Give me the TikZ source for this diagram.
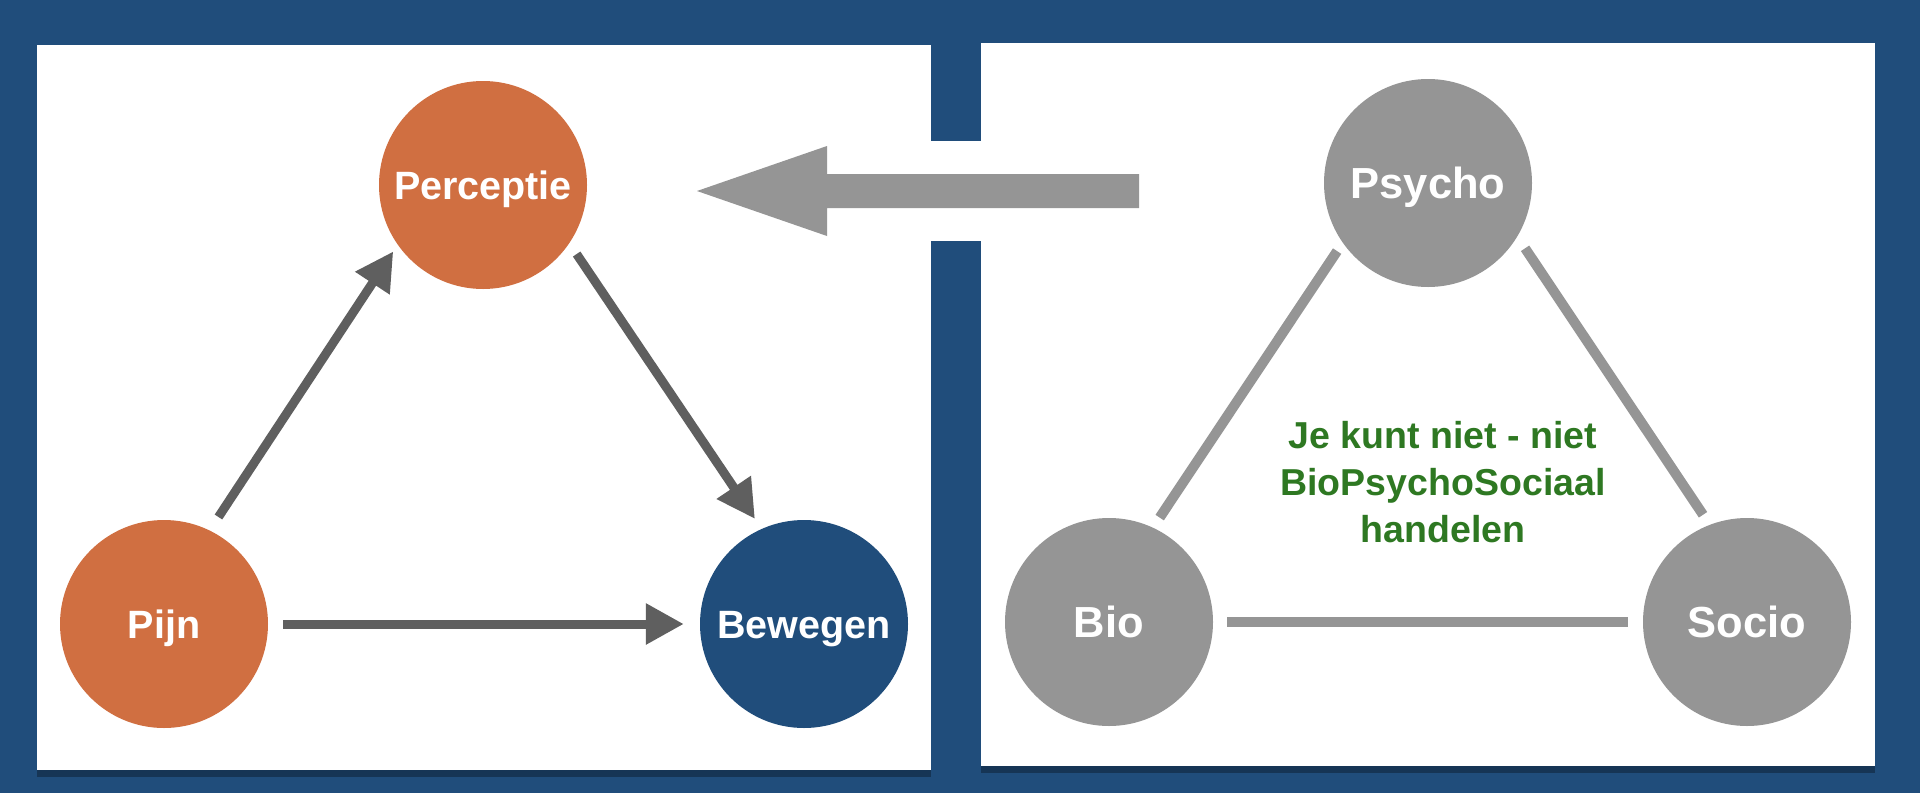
\documentclass[tikz,border=0pt]{standalone}
\usepackage{fontspec}
\setmainfont{Liberation Sans}
\usetikzlibrary{arrows.meta,shadows}

\definecolor{slideblue}{RGB}{32,77,123}
\definecolor{painorange}{RGB}{208,111,65}
\definecolor{flowgrey}{RGB}{95,95,95}
\definecolor{bpsgrey}{RGB}{149,149,149}
\definecolor{bpsgreen}{RGB}{46,120,34}

\newcommand{\leftfont}{\fontsize{39.5}{47}\selectfont\bfseries}
\newcommand{\rightfont}{\fontsize{43.5}{52}\selectfont\bfseries}
\newcommand{\notefont}{\fontsize{37.5}{47}\selectfont\bfseries}

\begin{document}
\begin{tikzpicture}
[x=1pt,y=-1pt
,panel/.style={fill=white,drop shadow={shadow xshift=0pt,shadow yshift=-7pt,opacity=.3,fill=black}}
,bubble/.style={circle,minimum size=208pt,inner sep=0pt,text=white,text depth=0pt}
,warm/.style={bubble,fill=painorange,font=\leftfont,text height=28pt}
,cold/.style={bubble,fill=slideblue,font=\leftfont,text height=28pt}
,muted/.style={bubble,fill=bpsgrey,font=\rightfont,text height=31pt}
,flow/.style={draw=flowgrey,line width=9pt,-{Triangle[length=38pt,width=39pt]}}
,tie/.style={draw=bpsgrey,line width=10pt}
]

\useasboundingbox (0,0) rectangle (1920,793);
\fill[slideblue] (0,0) rectangle (1920,793);

% the two slides and the bridge between them
\path[panel] (37,45) rectangle (931,770);
\path[panel] (981,43) rectangle (1875,766);
\fill[white] (930,141) rectangle (982,241);

% big arrow from right to left
\fill[bpsgrey] (697,191) -- (827,146) -- (827,174) -- (1139,174)
  -- (1139,208) -- (827,208) -- (827,236) -- cycle;

% left triangle
\node[warm] (perc) at (483,185)   {Perceptie};
\node[warm] (pijn) at (164,624)   {Pijn};
\node[cold] (bew)  at (804,624)   {Bewegen};

\draw [flow,shorten <=16pt,shorten >=8pt] (node cs:name=pijn,angle=64) -- (node cs:name=perc,angle=215);
\draw [flow,shorten <=13pt,shorten >=12pt] (node cs:name=perc,angle=-34) -- (node cs:name=bew,angle=114);
\draw [flow,shorten <=15pt,shorten >=16pt] (pijn.east) -- (bew.west);

% right triangle
\node[muted] (psy)   at (1428,183)  {Psycho};
\node[muted] (bio)   at (1109,622)  {Bio};
\node[muted] (socio) at (1747,622)  {Socio};

\draw [tie,shorten <=10pt,shorten >=12pt] (node cs:name=psy,angle=215) -- (node cs:name=bio,angle=65);
\draw [tie,shorten <=14pt,shorten >=12pt] (node cs:name=psy,angle=-31) -- (node cs:name=socio,angle=111);
\draw [tie,shorten <=14pt,shorten >=15pt] (bio.east) -- (socio.west);

\node[text=bpsgreen,font=\notefont,align=center] (note) at (1443,482)
  {Je kunt niet - niet\\BioPsychoSociaal\\handelen};

\end{tikzpicture}
\end{document}
